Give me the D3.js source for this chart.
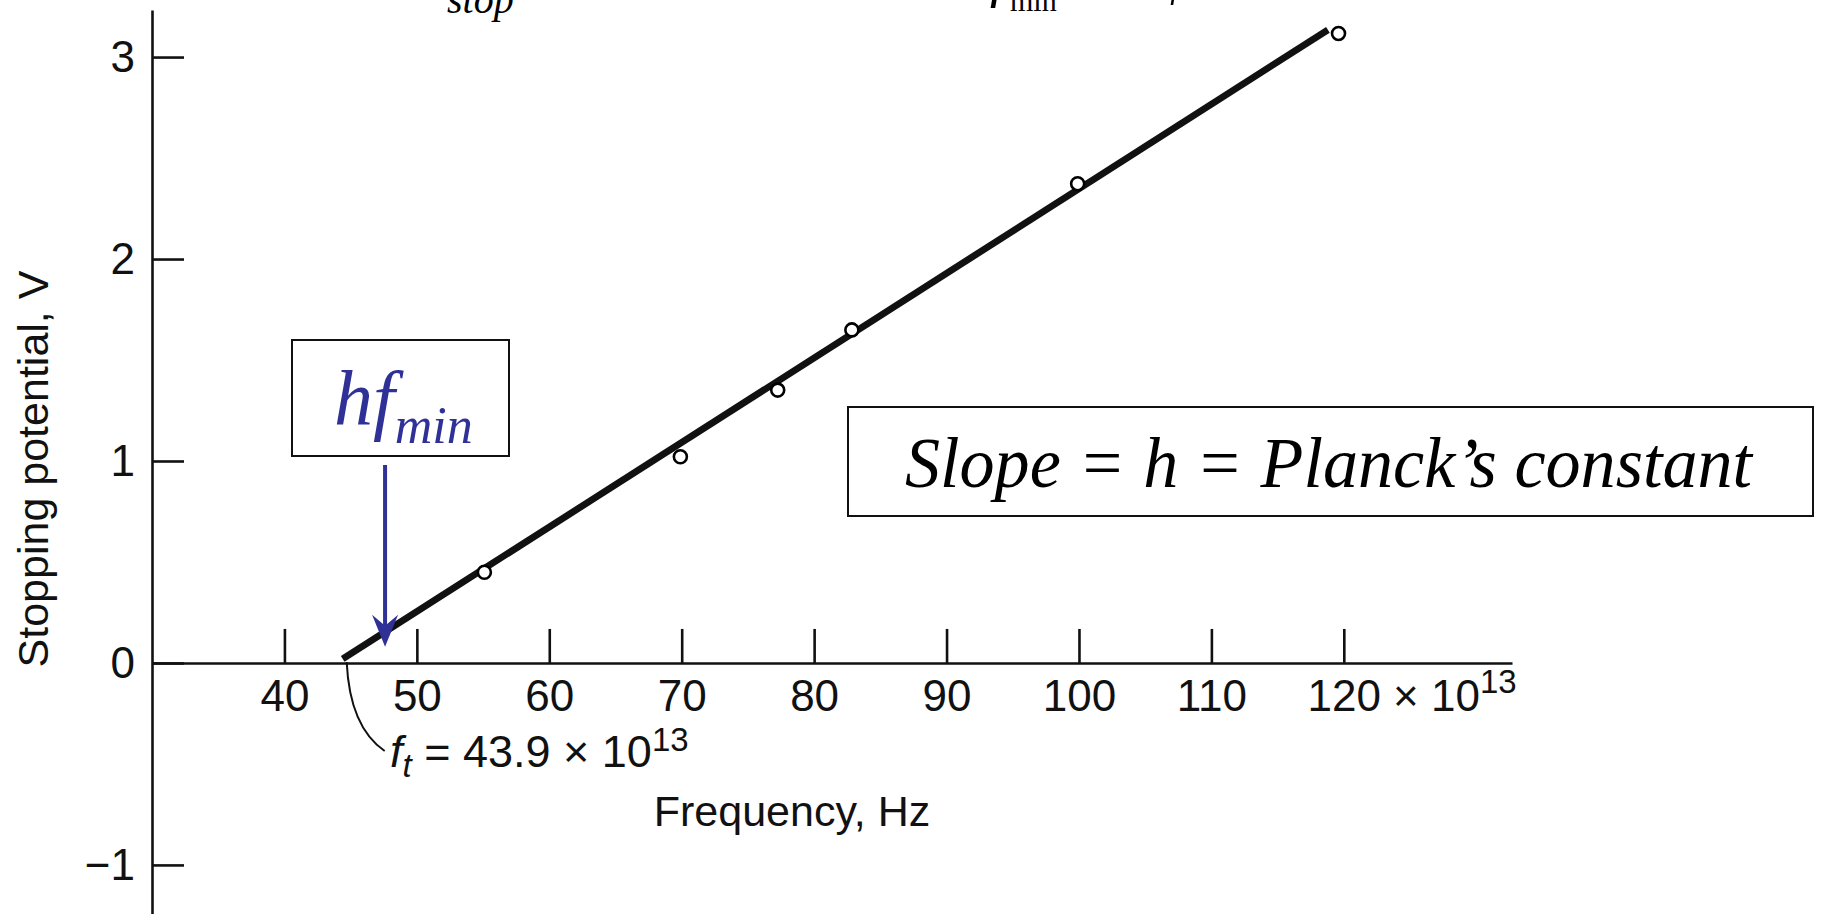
<!DOCTYPE html>
<html>
<head>
<meta charset="utf-8">
<script src="https://cdn.jsdelivr.net/npm/d3@7/dist/d3.min.js"></script>
<style>
  html, body { margin: 0; padding: 0; background: #fff; }
  svg { display: block; }
</style>
</head>
<body>
<svg id="chart" width="1823" height="914"></svg>
<script>
// ---- data ----
const xTicks = [40, 50, 60, 70, 80, 90, 100, 110, 120];
const yTicks = [-1, 0, 1, 2, 3];
const yTickLabels = ["\u22121", "0", "1", "2", "3"];
const frequency = [55.1, 69.9, 77.25, 82.85, 99.9, 119.6];      // ×10^13 Hz
const stopping  = [0.449, 1.021, 1.351, 1.649, 2.373, 3.117];  // V
const fitFreq = [44.4, 118.8];
const fitVolt = [0.02, 3.135];
const thresholdLabel = "43.9";
const arrowFreq = 47.6, arrowFrom = 0.98, arrowTo = 0.08;

// ---- scales ----
const svg = d3.select("#chart");
const x = d3.scaleLinear().domain([30, 132.7]).range([152, 1512]);
const y = d3.scaleLinear().domain([-1.243, 3.233]).range([914, 10]);

const sans = "'Liberation Sans', Arial, Helvetica, sans-serif";
const serif = "'Liberation Serif', 'Times New Roman', serif";
const NB = "\u00A0";

// ---- clipped equation fragments at the very top (only their lower parts show) ----
const eqTop = svg.append("g").attr("fill", "#000").attr("font-family", serif);
eqTop.append("text").attr("x", 447).attr("y", 13).attr("font-size", 40).attr("font-style", "italic").text("stop");
eqTop.append("text").attr("x", 990).attr("y", -4).attr("font-size", 56).attr("font-style", "italic").text("f");
eqTop.append("text").attr("x", 1010).attr("y", 11).attr("font-size", 30).text("min");
eqTop.append("text").attr("x", 1162).attr("y", -6).attr("font-size", 50).attr("font-style", "italic").text("\u03C6");

// ---- axes ----
const xAxis = d3.axisBottom(x).tickValues(xTicks).tickSizeInner(-34).tickSizeOuter(0).tickPadding(17);
const gx = svg.append("g").attr("transform", `translate(0,${y(0)})`).call(xAxis);
gx.attr("font-size", null).attr("font-family", null);
gx.selectAll("text").attr("font-family", sans).attr("font-size", 44).attr("fill", "#111");
gx.selectAll("path, line").attr("stroke", "#111").attr("stroke-width", 2.6);

const yAxis = d3.axisLeft(y).tickValues(yTicks).tickFormat((d, i) => yTickLabels[i])
  .tickSizeInner(-32).tickSizeOuter(0).tickPadding(17);
const gy = svg.append("g").attr("transform", `translate(${x(30)},0)`).call(yAxis);
gy.attr("font-size", null).attr("font-family", null);
gy.selectAll("text").attr("font-family", sans).attr("font-size", 44).attr("fill", "#111");
gy.selectAll("path, line").attr("stroke", "#111").attr("stroke-width", 2.6);

// "× 10^13" after the last tick label
const lastTick = xTicks[xTicks.length - 1];
const mult = svg.append("text")
  .attr("x", x(lastTick) + 37).attr("y", 711)
  .attr("font-family", sans).attr("font-size", 44).attr("fill", "#111");
mult.append("tspan").text(NB + "\u00D7" + NB + "10");
mult.append("tspan").attr("font-size", 33).attr("dy", -18).text("13");

// axis titles
svg.append("text")
  .attr("x", 792).attr("y", 826).attr("text-anchor", "middle")
  .attr("font-family", sans).attr("font-size", 43).attr("fill", "#111")
  .text("Frequency, Hz");
svg.append("text")
  .attr("transform", "translate(48,469) rotate(-90)").attr("text-anchor", "middle")
  .attr("font-family", sans).attr("font-size", 43).attr("fill", "#111")
  .text("Stopping potential, V");

// ---- fitted line ----
const fit = fitFreq.map((f, i) => [f, fitVolt[i]]);
svg.append("path")
  .datum(fit)
  .attr("d", d3.line().x(d => x(d[0])).y(d => y(d[1])))
  .attr("fill", "none").attr("stroke", "#111").attr("stroke-width", 6.8)
  .attr("stroke-linecap", "butt");

// ---- data points ----
const pts = frequency.map((f, i) => [f, stopping[i]]);
svg.append("g").selectAll("circle").data(pts).join("circle")
  .attr("cx", d => x(d[0])).attr("cy", d => y(d[1])).attr("r", 6.5)
  .attr("fill", "#fff").attr("stroke", "#000").attr("stroke-width", 2.6);

// ---- threshold leader & label ----
svg.append("path")
  .attr("d", `M${x(fitFreq[0]) + 4},${y(0) - 1} Q${x(fitFreq[0]) + 7},${y(0) + 64} ${x(fitFreq[0]) + 42},${y(0) + 88}`)
  .attr("fill", "none").attr("stroke", "#111").attr("stroke-width", 2);
const ft = svg.append("text").attr("x", 390).attr("y", 767)
  .attr("font-family", sans).attr("font-size", 45).attr("fill", "#111");
ft.append("tspan").attr("font-style", "italic").text("f");
ft.append("tspan").attr("font-style", "italic").attr("font-size", 33).attr("dy", 10).text("t");
ft.append("tspan").attr("dy", -10).text(NB + "=" + NB + thresholdLabel + NB + "\u00D7" + NB + "10");
ft.append("tspan").attr("font-size", 33).attr("dy", -16).text("13");

// ---- hf_min box & arrow ----
const blue = "#2f3196";
svg.append("rect").attr("x", 292).attr("y", 340).attr("width", 217).attr("height", 116)
  .attr("fill", "#fff").attr("stroke", "#111").attr("stroke-width", 2);
const hf = svg.append("text").attr("x", 334).attr("y", 425)
  .attr("font-family", serif).attr("font-style", "italic").attr("fill", blue).attr("font-size", 78);
hf.append("tspan").text("hf");
hf.append("tspan").attr("font-size", 52).attr("dy", 18).text("min");

const ax = x(arrowFreq), ay0 = y(arrowFrom), ay1 = y(arrowTo);
svg.append("line").attr("x1", ax).attr("x2", ax).attr("y1", ay0).attr("y2", ay1 - 18)
  .attr("stroke", blue).attr("stroke-width", 4);
svg.append("path")
  .attr("d", `M${ax},${ay1} L${ax - 13},${ay1 - 32} L${ax},${ay1 - 21} L${ax + 13},${ay1 - 32} Z`)
  .attr("fill", blue);

// ---- slope box ----
svg.append("rect").attr("x", 848).attr("y", 407).attr("width", 965).attr("height", 109)
  .attr("fill", "#fff").attr("stroke", "#111").attr("stroke-width", 2);
svg.append("text").attr("x", 905).attr("y", 487)
  .attr("font-family", serif).attr("font-style", "italic").attr("font-size", 72).attr("fill", "#000")
  .attr("textLength", 847).attr("lengthAdjust", "spacingAndGlyphs")
  .text("Slope = h = Planck\u2019s constant");
</script>
</body>
</html>
